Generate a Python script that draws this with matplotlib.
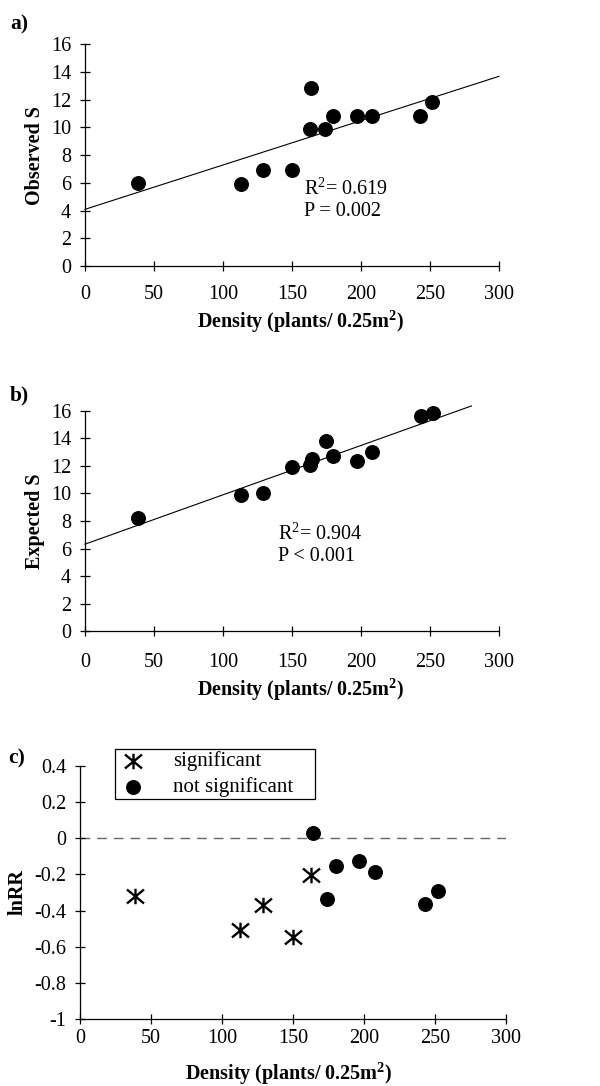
import matplotlib
matplotlib.use("Agg")
import matplotlib.pyplot as plt
from matplotlib.path import Path
import numpy as np

plt.rcParams['font.family'] = ['Liberation Serif', 'DejaVu Serif']
plt.rcParams['mathtext.fontset'] = 'custom'
plt.rcParams['mathtext.rm'] = 'Liberation Serif'
plt.rcParams['mathtext.default'] = 'regular'
plt.rcParams['axes.unicode_minus'] = False

# ---- data ----
density = [38.6, 112.8, 129.0, 149.8, 162.8, 164.0, 174.0, 179.5, 196.9, 207.7, 242.8, 251.7]
observed_s = [6.0, 5.95, 6.9, 6.9, 9.9, 12.85, 9.9, 10.85, 10.85, 10.85, 10.85, 11.8]

density_b = [38.6, 112.8, 129.0, 149.8, 162.8, 164.2, 174.4, 180.0, 196.9, 208.2, 243.2, 252.2]
expected_s = [8.25, 9.88, 10.05, 11.94, 12.04, 12.52, 13.8, 12.71, 12.33, 13.0, 15.59, 15.8]

# regression lines (intercept, slope, x-range)
fit_a = (4.09, 0.0320)
fit_a_range = [0, 300]
fit_b = (6.32, 0.0358)
fit_b_range = [0, 280]

sig_density = [38.7, 112.7, 128.9, 150.2, 162.7]
sig_lnrr = [-0.318, -0.507, -0.371, -0.544, -0.204]
nsig_density = [163.8, 174.2, 180.3, 196.7, 207.7, 243.0, 251.9]
nsig_lnrr = [0.027, -0.338, -0.154, -0.128, -0.185, -0.366, -0.292]

x_ticks = [0, 50, 100, 150, 200, 250, 300]
s_ticks = [0, 2, 4, 6, 8, 10, 12, 14, 16]
c_ticks = [-1, -0.8, -0.6, -0.4, -0.2, 0, 0.2, 0.4]
c_tick_labels = ['-1', '-0.8', '-0.6', '-0.4', '-0.2', '0', '0.2', '0.4']

xlabel = 'Density (plants/ 0.25m$^{2}$)'
FS = 14.5

# asterisk marker: vertical stroke plus an X
star_marker = Path([(0, -1), (0, 1), (-1.1, -0.9), (1.1, 0.9), (-1.1, 0.9), (1.1, -0.9)],
                   [Path.MOVETO, Path.LINETO, Path.MOVETO, Path.LINETO,
                    Path.MOVETO, Path.LINETO])

W, H = 600, 1086
fig = plt.figure(figsize=(W / 100, H / 100), dpi=100)


def px_axes(l, r, t, b):
    return fig.add_axes([l / W, 1 - b / H, (r - l) / W, (b - t) / H])


def style(ax, xpad):
    for s in ['top', 'right']:
        ax.spines[s].set_visible(False)
    for s in ['left', 'bottom']:
        ax.spines[s].set_linewidth(0.9)
    ax.tick_params(direction='inout', length=7, width=0.9, labelsize=FS)
    ax.tick_params(axis='x', pad=xpad)
    ax.tick_params(axis='y', pad=6.5)
    ax.set_xticks(x_ticks)
    ax.set_xlim(0, 300)


# ---- panel a ----
axa = px_axes(85, 499, 44.3, 266)
style(axa, 10.5)
axa.set_ylim(0, 16)
axa.set_yticks(s_ticks)
axa.scatter(density, observed_s, s=95, color='black', zorder=3, clip_on=False)
xa = np.array(fit_a_range, dtype=float)
axa.plot(xa, fit_a[0] + fit_a[1] * xa, color='black', lw=0.8, clip_on=False)
axa.text(158.5, 5.55, 'R$^2$= 0.619', fontsize=FS, va='center', ha='left')
axa.text(158.5, 3.95, 'P = 0.002', fontsize=FS, va='center', ha='left')
axa.set_ylabel('Observed S', fontsize=FS, fontweight='bold', va='center')
axa.yaxis.set_label_coords(-50 / 414, 0.5)
axa.set_xlabel(xlabel, fontsize=FS, fontweight='bold', va='center')
axa.xaxis.set_label_coords(0.52, -56 / 222)

# ---- panel b ----
axb = px_axes(85, 499, 410.7, 631.3)
style(axb, 12)
axb.set_ylim(0, 16)
axb.set_yticks(s_ticks)
axb.scatter(density_b, expected_s, s=95, color='black', zorder=3, clip_on=False)
xb = np.array(fit_b_range, dtype=float)
axb.plot(xb, fit_b[0] + fit_b[1] * xb, color='black', lw=0.8, clip_on=False)
axb.text(140, 7.03, 'R$^2$= 0.904', fontsize=FS, va='center', ha='left')
axb.text(140, 5.41, 'P < 0.001', fontsize=FS, va='center', ha='left')
axb.set_ylabel('Expected S', fontsize=FS, fontweight='bold', va='center')
axb.yaxis.set_label_coords(-50 / 414, 0.5)
axb.set_xlabel(xlabel, fontsize=FS, fontweight='bold', va='center')
axb.xaxis.set_label_coords(0.52, -59 / 220.6)

# ---- panel c ----
axc = px_axes(80, 506, 765.7, 1019.3)
style(axc, 3.5)
axc.set_ylim(-1, 0.4)
axc.set_yticks(c_ticks)
axc.set_yticklabels(c_tick_labels)
axc.axhline(0, color='#666666', lw=1.0, ls=(0, (7, 5)), zorder=1)
axc.scatter(sig_density, sig_lnrr, marker=star_marker, s=150, color='black',
            linewidths=1.7, zorder=3, label='significant')
axc.scatter(nsig_density, nsig_lnrr, s=95, color='black', zorder=3,
            label='not significant')
axc.set_ylabel('lnRR', fontsize=FS, fontweight='bold', va='center')
axc.yaxis.set_label_coords(-62 / 426, 0.5)
axc.set_xlabel(xlabel, fontsize=FS, fontweight='bold', va='center')
axc.xaxis.set_label_coords(0.49, -55 / 253.6)
leg = axc.legend(loc='upper left',
                 bbox_to_anchor=(115 / W, 1 - 800 / H, 200 / W, 51 / H),
                 mode='expand',
                 bbox_transform=fig.transFigure, fontsize=FS + 0.5, frameon=True,
                 fancybox=False, edgecolor='black', framealpha=1,
                 borderpad=0.1, handletextpad=1.2, labelspacing=0.3,
                 borderaxespad=0, handlelength=1.5)
leg.get_frame().set_linewidth(0.9)

# ---- panel letters ----
fig.text(10 / W, 1 - 24 / H, 'a)', fontsize=FS + 1, fontweight='bold', va='center')
fig.text(10 / W, 1 - 395 / H, 'b)', fontsize=FS + 1, fontweight='bold', va='center')
fig.text(8 / W, 1 - 758 / H, 'c)', fontsize=FS + 1, fontweight='bold', va='center')

fig.savefig('out.png', dpi=100)
